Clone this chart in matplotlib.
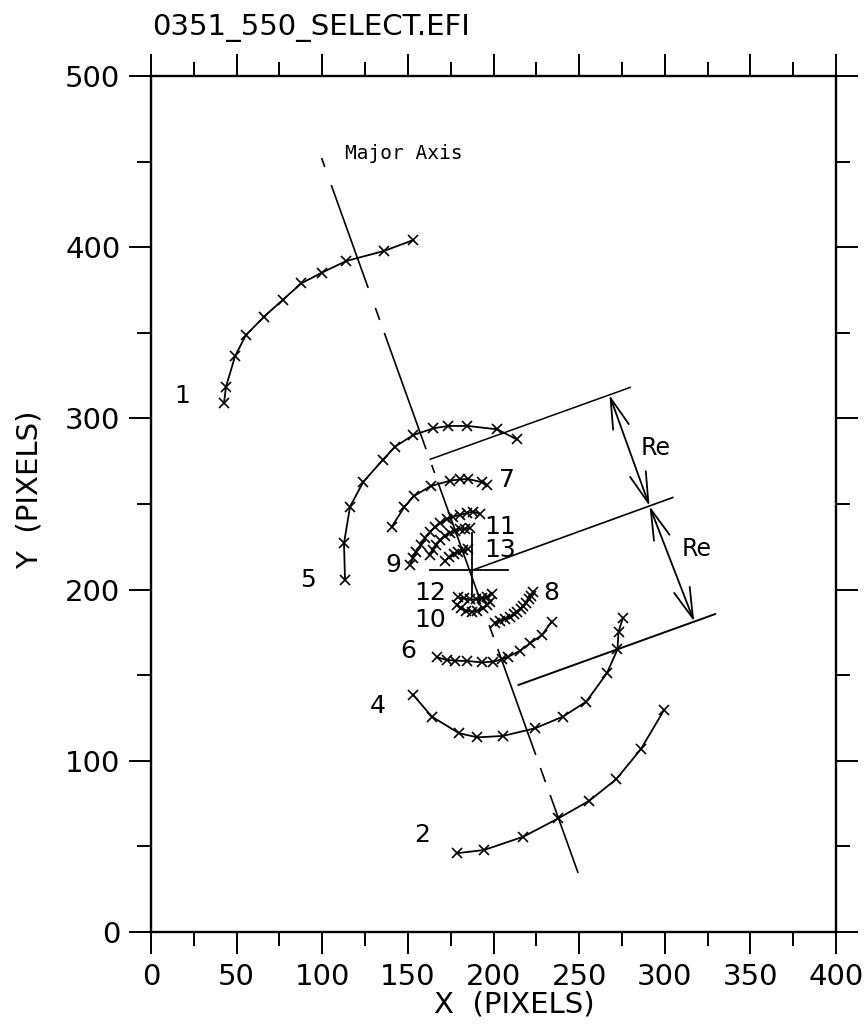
import numpy as np
import matplotlib
matplotlib.use("Agg")
import matplotlib.pyplot as plt
from matplotlib.ticker import MultipleLocator

# isophote contours (pixel coords)
c1_x = [42.6, 43.8, 49.1, 55.4, 66.0, 76.9, 87.8, 99.9, 113.9, 136.1, 153.2]
c1_y = [308.8, 318.5, 336.4, 348.6, 359.4, 369.2, 378.9, 385.2, 391.9, 397.8, 404.2]

c2_x = [178.6, 194.5, 217.5, 237.9, 256.0, 271.6, 286.0, 299.6]
c2_y = [46.0, 47.9, 55.7, 66.4, 76.7, 89.2, 106.7, 129.7]

c4_x = [153.2, 164.0, 179.9, 190.6, 205.4, 224.3, 240.5, 254.1, 266.2, 272.4, 273.0, 275.5]
c4_y = [138.4, 125.8, 116.1, 113.7, 114.5, 119.0, 125.8, 134.5, 151.1, 165.1, 175.4, 183.2]

c5_x = [113.3, 112.7, 116.2, 124.0, 135.3, 142.5, 153.2, 164.9, 173.7, 184.8, 202.3, 213.6]
c5_y = [205.6, 227.0, 248.4, 263.0, 275.7, 283.5, 290.3, 294.2, 295.6, 295.6, 293.6, 287.7]

c6_x = [167.2, 172.7, 177.6, 184.8, 193.2, 199.9, 204.8, 208.7, 215.5, 221.4, 228.2, 234.1]
c6_y = [160.4, 158.9, 158.5, 158.3, 157.5, 157.9, 159.3, 160.8, 164.3, 168.6, 173.5, 181.3]

c7_x = [140.6, 147.8, 153.6, 163.4, 174.6, 180.5, 185.3, 193.2, 196.1]
c7_y = [236.7, 248.1, 254.7, 260.5, 263.6, 264.4, 264.6, 262.7, 261.1]

c8_x = [200.9, 203.9, 206.8, 209.7, 212.0, 213.9, 215.9, 217.5, 219.0, 220.6, 221.8, 223.3]
c8_y = [180.7, 181.8, 183.0, 184.2, 185.6, 187.1, 188.9, 190.4, 192.3, 194.3, 196.3, 198.8]

c9_x = [151.3, 152.8, 154.8, 157.5, 160.0, 163.0, 165.9, 168.8, 172.7, 176.6, 180.5, 184.8, 188.3, 192.2]
c9_y = [214.4, 218.3, 222.1, 226.1, 230.0, 233.8, 236.7, 238.7, 241.0, 242.6, 243.6, 244.9, 245.5, 244.2]

c10_x = [178.6, 180.9, 184.0, 187.3, 190.6, 193.7, 196.4, 198.0]
c10_y = [191.0, 189.0, 187.7, 187.1, 187.7, 189.0, 191.0, 192.9]

c11_x = [163.0, 164.5, 166.5, 168.8, 171.7, 174.6, 177.6, 180.5, 183.4, 186.3]
c11_y = [220.2, 223.1, 226.1, 229.0, 231.5, 233.2, 234.4, 235.2, 235.6, 235.7]

c12_x = [179.5, 182.8, 186.3, 189.8, 193.2, 196.4, 199.0]
c12_y = [195.5, 194.9, 194.3, 194.3, 194.9, 195.9, 197.4]

c13_x = [171.7, 174.2, 177.0, 179.5, 182.4, 185.3]
c13_y = [216.9, 218.9, 220.8, 222.1, 223.1, 223.5]

contours = [(c1_x, c1_y), (c2_x, c2_y), (c4_x, c4_y), (c5_x, c5_y), (c6_x, c6_y),
            (c7_x, c7_y), (c8_x, c8_y), (c9_x, c9_y), (c10_x, c10_y), (c11_x, c11_y),
            (c12_x, c12_y), (c13_x, c13_y)]

# contour labels
lab_text = ["1", "2", "4", "5", "6", "7", "8", "9", "10", "11", "12", "13"]
lab_x = [18.5, 158.1, 132.6, 91.9, 150.3, 207.8, 233.5, 141.5, 163.0, 203.9, 163.0, 203.9]
lab_y = [313.0, 56.7, 132.0, 205.6, 164.3, 264.0, 197.8, 214.4, 182.2, 236.7, 197.8, 223.1]

# major axis: end points and the drawn (dashed) pieces, given as y ranges
axis_x = [99.6, 249.4]
axis_y = [452.1, 34.5]
axis_pieces = [(452.1, 446.8), (436.3, 376.2), (364.5, 357.5), (349.9, 282.1),
               (272.8, 268.1), (262.9, 193.0), (179.3, 172.3), (165.3, 103.4),
               (95.8, 87.6), (80.0, 34.5)]

# centre cross
cross_h_x = [163.0, 208.7]
cross_h_y = [211.2, 211.2]
cross_v_x = [187.3, 187.3]
cross_v_y = [196.0, 233.0]

# lines perpendicular to the major axis
perp_upper_x = [163.0, 279.8]
perp_upper_y = [276.1, 318.1]
perp_mid_x = [187.3, 304.7]
perp_mid_y = [211.2, 253.8]
perp_low_x = [214.6, 329.4]
perp_low_y = [144.3, 185.7]

# Re arrows
re_pts_x = [267.7, 291.1, 317.2]
re_pts_y = [313.7, 248.8, 181.3]
re_lab_x = [294.4, 318.7]
re_lab_y = [282.5, 223.5]

W, H = 865, 1030
fig = plt.figure(figsize=(W / 100, H / 100), dpi=100)
ax = fig.add_axes([151 / W, 98 / H, 685 / W, 856 / H])

for cx, cy in contours:
    ax.plot(cx, cy, '-', color='black', lw=1.3, marker='x', ms=7.5, mew=1.2)

# major axis
ax_slope = (axis_x[1] - axis_x[0]) / (axis_y[1] - axis_y[0])
for ya, yb in axis_pieces:
    xa = axis_x[0] + (ya - axis_y[0]) * ax_slope
    xb = axis_x[0] + (yb - axis_y[0]) * ax_slope
    ax.plot([xa, xb], [ya, yb], color='black', lw=1.2, solid_capstyle='butt')

ax.plot(cross_h_x, cross_h_y, color='black', lw=1.3)
ax.plot(cross_v_x, cross_v_y, color='black', lw=1.3)
ax.plot(perp_upper_x, perp_upper_y, color='black', lw=1.1)
ax.plot(perp_mid_x, perp_mid_y, color='black', lw=1.2)
ax.plot(perp_low_x, perp_low_y, color='black', lw=1.4)

for i in range(2):
    ax.annotate('', xy=(re_pts_x[i], re_pts_y[i]), xytext=(re_pts_x[i + 1], re_pts_y[i + 1]),
                arrowprops=dict(arrowstyle='<->,head_length=1.1,head_width=0.3',
                                mutation_scale=20, lw=1.3, color='black',
                                shrinkA=0, shrinkB=0))
    ax.text(re_lab_x[i], re_lab_y[i], 'Re', fontsize=17, ha='center', va='center',
            family=['Liberation Sans Narrow', 'DejaVu Sans'])

for t, lx, ly in zip(lab_text, lab_x, lab_y):
    ax.text(lx, ly, t, fontsize=18, ha='center', va='center',
            family=['Liberation Sans Narrow', 'DejaVu Sans'])

ax.text(113.3, 455, 'Major Axis', fontsize=14, ha='left', va='center',
        family='DejaVu Sans Mono')

# axes styling
ax.set_xlim(0, 400)
ax.set_ylim(0, 500)
ax.xaxis.set_major_locator(MultipleLocator(50))
ax.xaxis.set_minor_locator(MultipleLocator(25))
ax.yaxis.set_major_locator(MultipleLocator(100))
ax.yaxis.set_minor_locator(MultipleLocator(50))
ax.tick_params(which='both', direction='out', top=True, right=True, width=1.4,
               labelsize=21, colors='black')
ax.tick_params(which='major', length=16, pad=6)
ax.tick_params(which='minor', length=10)
for s in ax.spines.values():
    s.set_linewidth(1.7)

fig.text(514 / W, 1 - 1005 / H, 'X  (PIXELS)', fontsize=21, ha='center', va='center')
fig.text(30 / W, 1 - 490 / H, 'Y  (PIXELS)', fontsize=21, ha='center', va='center',
         rotation=90)
fig.text(152 / W, 1 - 28 / H, '0351_550_SELECT.EFI', fontsize=21, ha='left', va='center')

fig.savefig('out.png', dpi=100)
